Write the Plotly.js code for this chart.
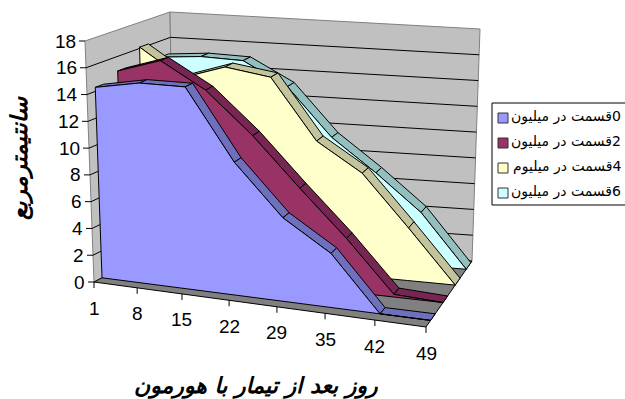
<!DOCTYPE html>
<html>
<head>
<meta charset="utf-8">
<script src="https://cdn.plot.ly/plotly-3.0.1.min.js"></script>
<style>html,body{margin:0;padding:0;background:#fff}#chart{width:625px;height:399px}</style>
</head>
<body>
<div id="chart"></div>
<script>
// Leaf area over time after hormone treatment, one ribbon per concentration.
const days = [1, 8, 15, 22, 29, 35, 42, 49];
const valueTicks = [0, 2, 4, 6, 8, 10, 12, 14, 16, 18];
const series0 = [14.3, 15.0, 15.1, 9.9, 6.2, 4.0, 0, 0];
const series2 = [14.9, 16.0, 14.1, 11.0, 7.4, 4.0, 0.2, 0];
const series4 = [16.1, 14.0, 15.1, 14.6, 10.0, 7.85, 4.0, 0];
const series6 = [14.75, 15.0, 14.9, 13.1, 9.4, 6.9, 4.1, 0];
const seriesNames = ['0قسمت در میلیون', '2قسمت در میلیون', '4قسمت در میلیوم', '6قسمت در میلیون'];
const xTitle = 'روز بعد از تیمار با هورمون';
const yTitle = 'سانتیمترمربع';

// Box geometry of the oblique view, in plot units.
const floorBox = {fl: [94, 282], fr: [426, 327], br: [472, 261], bl: [174, 240]};
const roofBox = {fl: [85, 41], fr: [431.5, 81], br: [480, 29], bl: [170, 12]};
const valueMax = 18;
const dayStops = [0, 0.13, 0.265, 0.407, 0.551, 0.696, 0.846, 1];
const ribbonDepth = [[0.10, 0.20], [0.37, 0.47], [0.635, 0.74], [0.875, 0.975]];
const faceColors = ['#9999FF', '#993366', '#FFFFCC', '#CCFFFF'];
const topColors = ['#6F70BD', '#772552', '#C4C49C', '#93BFBF'];
const wallColor = '#C0C0C0', floorColor = '#808080', edgeColor = '#808080';
const labelFont = 'Liberation Sans, Arial, sans-serif';
const arabicFont = 'DejaVu Sans, sans-serif';

const lerp = (a, b, k) => [a[0] + (b[0] - a[0]) * k, a[1] + (b[1] - a[1]) * k];
const onBox = (box, t, d) => lerp(lerp(box.fl, box.fr, t), lerp(box.bl, box.br, t), d);
// Projects (position along days, depth, value) onto the plot plane.
const project = (t, d, v) => lerp(onBox(floorBox, t, d), onBox(roofBox, t, d), v / valueMax);

function polygon(points, fill, line, width) {
  const closed = points.concat([points[0]]);
  return {
    type: 'scatter', mode: 'lines', x: closed.map(p => p[0]), y: closed.map(p => p[1]),
    fill: 'toself', fillcolor: fill, line: {color: line, width: width === undefined ? 1 : width},
    hoverinfo: 'skip', showlegend: false
  };
}
function segments(list, color, width) {
  const x = [], y = [];
  list.forEach(seg => { seg.forEach(p => { x.push(p[0]); y.push(p[1]); }); x.push(null); y.push(null); });
  return {type: 'scatter', mode: 'lines', x, y, line: {color, width: width || 1}, hoverinfo: 'skip', showlegend: false};
}

const traces = [];
// Side and back walls, then the floor.
traces.push(polygon([onBox(floorBox, 0, 0), onBox(roofBox, 0, 0), onBox(roofBox, 0, 1), onBox(floorBox, 0, 1)], wallColor, edgeColor));
traces.push(polygon([onBox(floorBox, 0, 1), onBox(roofBox, 0, 1), onBox(roofBox, 1, 1), onBox(floorBox, 1, 1)], wallColor, edgeColor));
traces.push(segments(valueTicks.filter(v => v > 0 && v < valueMax).map(v => [project(0, 0, v), project(0, 1, v), project(1, 1, v)]), '#000000'));
traces.push(polygon([onBox(floorBox, 0, 0), onBox(floorBox, 1, 0), onBox(floorBox, 1, 1), onBox(floorBox, 0, 1)], floorColor, '#000000'));

// Ribbons, painted from the back row to the front row.
const rows = [series0, series2, series4, series6];
for (let i = rows.length - 1; i >= 0; i--) {
  const vals = rows[i], d0 = ribbonDepth[i][0], d1 = ribbonDepth[i][1];
  const top = dayStops.map((t, k) => project(t, d0, vals[k]));
  const back = dayStops.map((t, k) => project(t, d1, vals[k]));
  for (let k = 0; k < days.length - 1; k++) {
    traces.push(polygon([top[k], top[k + 1], back[k + 1], back[k]], topColors[i], '#000000'));
  }
  const base = dayStops.map(t => project(t, d0, 0));
  traces.push(polygon(top.concat(base.slice().reverse()), faceColors[i], '#000000'));
}

// Axis ticks.
const tickLen = 6;
traces.push(segments(valueTicks.map(v => { const p = project(0, 0, v); return [[p[0] - tickLen, p[1]], p]; }), '#000000'));
traces.push(segments(dayStops.map(t => { const p = project(t, 0, 0); return [p, [p[0], p[1] + tickLen]]; }), '#000000'));

// Key swatches.
const keyBox = {left: 492, top: 103, right: 627, bottom: 205};
const keySwatchX = 503, keyTextX = 622, keyRows = [118, 143, 168, 193], keyTextRows = [116, 141, 166, 191];
traces.push({
  type: 'scatter', mode: 'markers', x: keyRows.map(() => keySwatchX), y: keyRows,
  marker: {symbol: 'square', size: 10, color: faceColors, line: {color: '#333333', width: 1}},
  hoverinfo: 'skip', showlegend: false
});

const annotations = [];
const note = (x, y, text, size, extra) => annotations.push(Object.assign({
  xref: 'x', yref: 'y', x, y, text, showarrow: false, borderpad: 0,
  font: {family: labelFont, size, color: '#000000'}
}, extra || {}));

valueTicks.forEach(v => {
  const p = project(0, 0, v);
  note(p[0] - 8, p[1], String(v), 19, {xanchor: 'right', yanchor: 'middle'});
});
days.forEach((day, k) => {
  const p = project(dayStops[k], 0, 0);
  note(p[0], p[1] + 26, String(day), 19, {xanchor: 'center', yanchor: 'middle'});
});
seriesNames.forEach((name, i) => {
  note(keyTextX, keyTextRows[i], '\u202B' + name + '\u202C', 14,
    {xanchor: 'right', yanchor: 'middle', font: {family: arabicFont, size: 14, color: '#000000'}});
});
note(256, 386, '<b><i>' + xTitle + '</i></b>', 22, {font: {family: arabicFont, size: 22, color: '#000000'}});
note(20, 158, '<b><i>' + yTitle + '</i></b>', 23, {textangle: -90, font: {family: arabicFont, size: 23, color: '#000000'}});

const layout = {
  width: 625, height: 399, margin: {l: 0, r: 0, t: 0, b: 0},
  paper_bgcolor: '#FFFFFF', plot_bgcolor: '#FFFFFF', showlegend: false,
  xaxis: {range: [0, 625], visible: false, fixedrange: true},
  yaxis: {range: [399, 0], visible: false, fixedrange: true},
  annotations,
  shapes: [{type: 'rect', xref: 'x', yref: 'y', x0: keyBox.left, x1: keyBox.right, y0: keyBox.top, y1: keyBox.bottom,
    line: {color: '#000000', width: 1}, fillcolor: 'rgba(0,0,0,0)', layer: 'below'}]
};
Plotly.newPlot('chart', traces, layout, {displayModeBar: false, staticPlot: true});
</script>
</body>
</html>
